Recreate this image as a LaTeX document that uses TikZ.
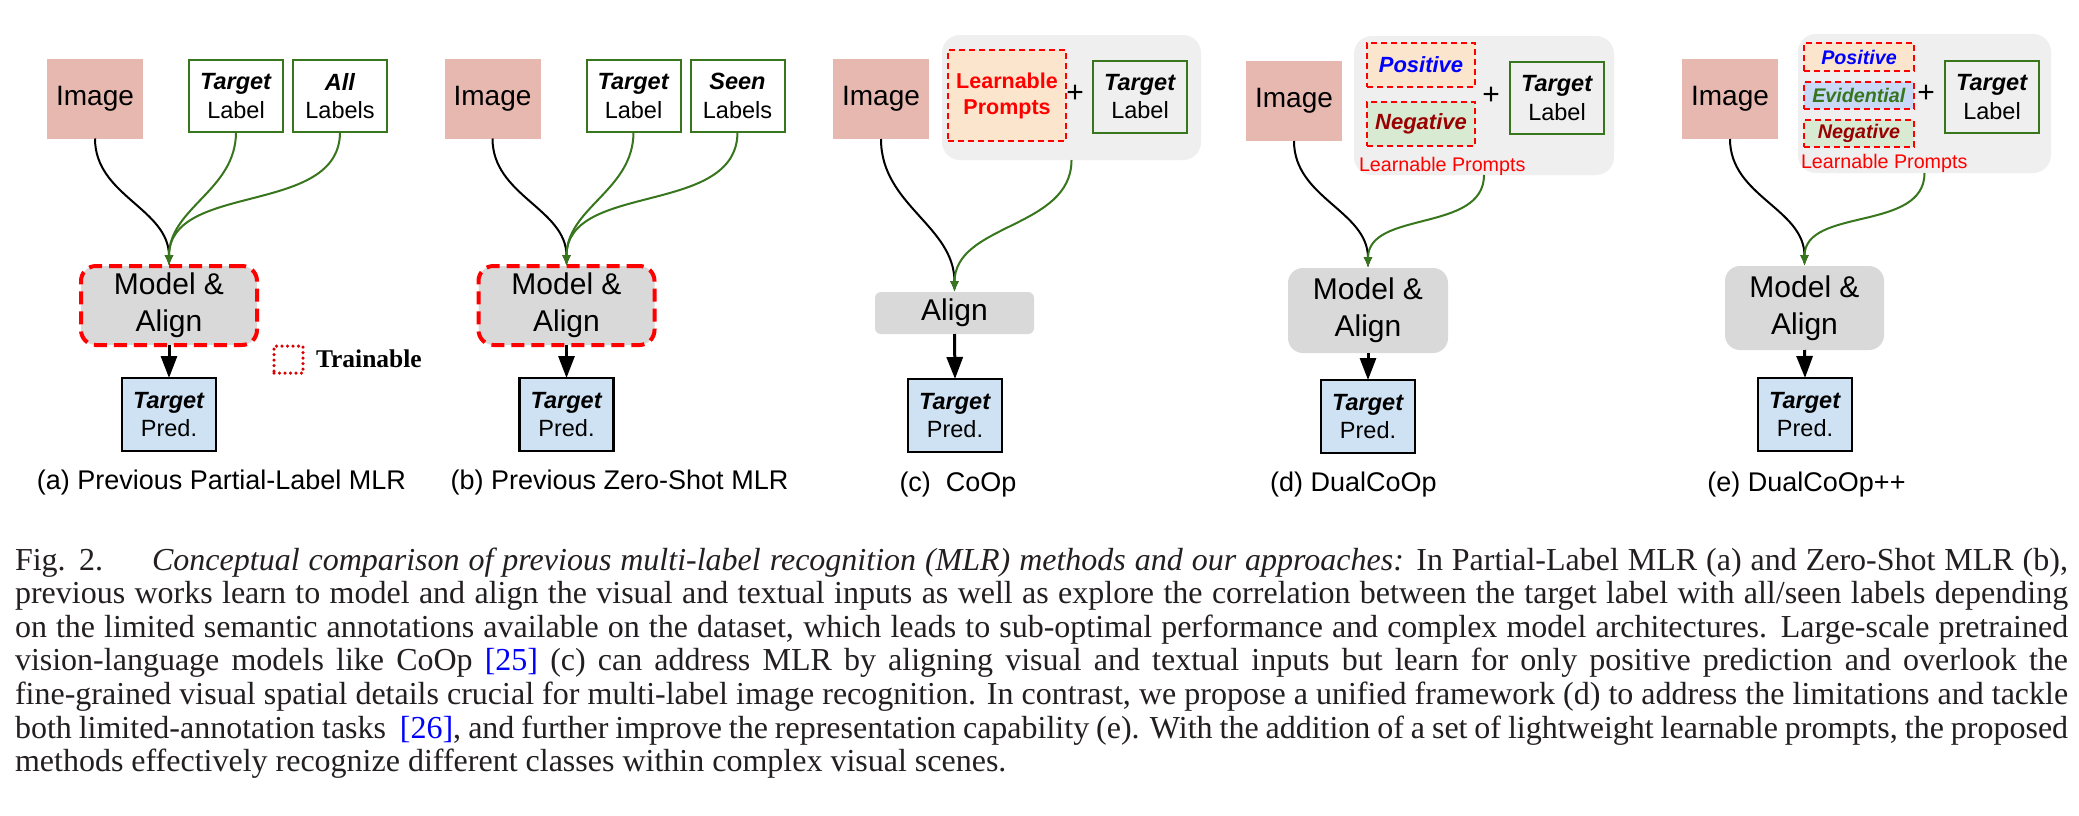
\documentclass[tikz,border=0pt]{standalone}
\usepackage{fontspec}
\setmainfont{Liberation Serif}
\setsansfont{Liberation Sans}
\usetikzlibrary{arrows.meta}
\definecolor{imgpink}{HTML}{E6B8AF}
\definecolor{lgreen}{HTML}{38761D}
\definecolor{mgray}{HTML}{D9D9D9}
\definecolor{predblue}{HTML}{CFE2F3}
\definecolor{bggray}{HTML}{EFEFEF}
\definecolor{peach}{HTML}{FCE5CD}
\definecolor{palegreen}{HTML}{D9EAD3}
\definecolor{paleblue}{HTML}{C9DAF8}
\definecolor{darkred}{HTML}{990000}
\definecolor{captext}{HTML}{231F20}
\definecolor{citeblue}{HTML}{0000FF}
\newcommand\myfs[2]{\fontsize{#1}{#2}\selectfont}
\newcommand\bi[1]{\textbf{\textit{#1}}}
\newcommand\jline[1]{\hbox to 2053pt{\spaceskip=0.25em plus 2em minus 0.12em\relax #1}}
\tikzset{
  every node/.style={inner sep=0pt, outer sep=0pt},
  imgbox/.style={fill=imgpink, minimum width=96pt, minimum height=80pt, font=\sffamily\myfs{28}{34}},
  lblbox/.style={draw=lgreen, line width=2pt, minimum width=94pt, minimum height=72pt, align=center, font=\sffamily\myfs{23.5}{28.5}},
  predbox/.style={draw=black, line width=2.5pt, fill=predblue, minimum width=94pt, minimum height=73pt, align=center, font=\sffamily\myfs{23.5}{28.5}},
  modbox/.style={fill=mgray, rounded corners=15pt, align=center, font=\sffamily\myfs{30}{37}},
  trainbox/.style={modbox, draw=red, line width=4pt, dash pattern=on 13pt off 7pt},
  bgbox/.style={fill=bggray, rounded corners=18pt},
  promptbox/.style={draw=red, line width=2pt, dash pattern=on 6pt off 4pt, align=center},
  dotbox/.style={draw=red!85!black, line width=3.5pt, dash pattern=on 0pt off 5.5pt, line cap=round, minimum width=29pt, minimum height=27pt},
  plus/.style={font=\sffamily\myfs{30}{36}},
  lptext/.style={anchor=west, text=red, font=\sffamily\myfs{19.7}{24}},
  feed/.style={line width=2pt, -{Latex[length=11pt,width=9pt]}},
  gfeed/.style={feed, draw=lgreen},
  outarrow/.style={line width=3pt, -{Triangle[length=22pt,width=16pt]}},
  caplab/.style={font=\sffamily\myfs{27}{32}},
  capline/.style={anchor=base west, text=captext, font=\myfs{32}{33.6}},
}
\begin{document}
\begin{tikzpicture}[x=1pt,y=-1pt]
\fill[white] (0,0) rectangle (2079,815);
\useasboundingbox (0,0) rectangle (2079,815);

% ---------- (a)
\node[imgbox] (imgA) at (95,98.5) {Image};
\node[lblbox] (tlA) at (236,96) {\bi{Target}\\Label};
\node[lblbox] (alA) at (340,96) {\bi{All}\\Labels};
\node[trainbox, minimum width=176pt, minimum height=79pt] (modA) at (169,305.5) {Model \&\\Align};
\node[predbox] (predA) at (169,414.5) {\bi{Target}\\Pred.};
\node[dotbox] (trsq) at (288.5,359.5) {};
\node[anchor=west, font=\myfs{25.5}{30}\bfseries] (trtxt) at (316,359) {Trainable};
\node[caplab] (capA) at (221.5,483) {(a) Previous Partial-Label MLR};
\draw[feed] (imgA.south) to[out=-90,in=90] (modA.north);
\draw[gfeed] (tlA.south) to[out=-90,in=90] (modA.north);
\draw[gfeed] (alA.south) to[out=-90,in=90] (modA.north);
\draw[outarrow] (modA.south) -- (predA.north);

% ---------- (b)
\node[imgbox] (imgB) at (492.5,98.5) {Image};
\node[lblbox] (tlB) at (633.5,96) {\bi{Target}\\Label};
\node[lblbox] (slB) at (737.5,96) {\bi{Seen}\\Labels};
\node[trainbox, minimum width=176pt, minimum height=79pt] (modB) at (566.5,305.5) {Model \&\\Align};
\node[predbox] (predB) at (566.5,414.5) {\bi{Target}\\Pred.};
\node[caplab] (capB) at (619.5,483) {(b) Previous Zero-Shot MLR};
\draw[feed] (imgB.south) to[out=-90,in=90] (modB.north);
\draw[gfeed] (tlB.south) to[out=-90,in=90] (modB.north);
\draw[gfeed] (slB.south) to[out=-90,in=90] (modB.north);
\draw[outarrow] (modB.south) -- (predB.north);

% ---------- (c)
\node[imgbox] (imgC) at (881,99) {Image};
\node[bgbox, minimum width=259pt, minimum height=125pt] (bgC) at (1071.5,97.5) {};
\node[promptbox, fill=peach, minimum width=118pt, minimum height=91pt, text=red, font=\sffamily\bfseries\myfs{21.5}{26}] (lpC) at (1007,95.5) {Learnable\\Prompts};
\node[plus] (plusC) at (1075,94) {+};
\node[lblbox] (tlC) at (1140,96.5) {\bi{Target}\\Label};
\node[modbox, rounded corners=6pt, minimum width=159pt, minimum height=42pt] (alC) at (954.5,313) {Align};
\node[predbox] (predC) at (955,415.5) {\bi{Target}\\Pred.};
\node[caplab] (capC) at (958,485) {(c)\ \ CoOp};
\draw[feed] (imgC.south) to[out=-90,in=90] (alC.north);
\draw[gfeed] (bgC.south) to[out=-90,in=90] (alC.north);
\draw[outarrow] (alC.south) -- (predC.north);

% ---------- (d)
\node[imgbox] (imgD) at (1294,101) {Image};
\node[bgbox, minimum width=260pt, minimum height=139pt] (bgD) at (1484,105.5) {};
\node[promptbox, fill=peach, minimum width=108pt, minimum height=44pt, font=\sffamily\myfs{22}{26}] (posD) at (1421,65) {\textcolor{citeblue}{\bi{Positive}}};
\node[promptbox, fill=palegreen, minimum width=108pt, minimum height=44pt, font=\sffamily\myfs{22}{26}] (negD) at (1421,124) {\textcolor{darkred}{\bi{Negative}}};
\node[plus] (plusD) at (1491,96) {+};
\node[lblbox] (tlD) at (1557,98) {\bi{Target}\\Label};
\node[lptext] (lpD) at (1359,166) {Learnable Prompts};
\node[modbox, minimum width=160pt, minimum height=85pt] (modD) at (1368,310.5) {Model \&\\Align};
\node[predbox] (predD) at (1368,416.5) {\bi{Target}\\Pred.};
\node[caplab] (capD) at (1353.5,485) {(d) DualCoOp};
\draw[feed] (imgD.south) to[out=-90,in=90] (modD.north);
\draw[gfeed] (bgD.south) to[out=-90,in=90] (modD.north);
\draw[outarrow] (modD.south) -- (predD.north);

% ---------- (e)
\node[imgbox] (imgE) at (1730,99) {Image};
\node[bgbox, minimum width=253pt, minimum height=139pt] (bgE) at (1924.5,103.5) {};
\node[promptbox, fill=peach, minimum width=110pt, minimum height=28pt, font=\sffamily\myfs{19.7}{24}] (posE) at (1859,57) {\textcolor{citeblue}{\bi{Positive}}};
\node[promptbox, fill=paleblue, minimum width=110pt, minimum height=27pt, font=\sffamily\myfs{19.7}{24}] (evE) at (1859,95.5) {\textcolor{lgreen}{\bi{Evidential}}};
\node[promptbox, fill=palegreen, minimum width=110pt, minimum height=27pt, font=\sffamily\myfs{19.7}{24}] (negE) at (1859,133.5) {\textcolor{darkred}{\bi{Negative}}};
\node[plus] (plusE) at (1926,94) {+};
\node[lblbox] (tlE) at (1992,97) {\bi{Target}\\Label};
\node[lptext] (lpE) at (1801,163) {Learnable Prompts};
\node[modbox, minimum width=159pt, minimum height=84pt] (modE) at (1804.5,308) {Model \&\\Align};
\node[predbox] (predE) at (1805,414.5) {\bi{Target}\\Pred.};
\node[caplab] (capE) at (1806.5,485) {(e) DualCoOp++};
\draw[feed] (imgE.south) to[out=-90,in=90] (modE.north);
\draw[gfeed] (bgE.south) to[out=-90,in=90] (modE.north);
\draw[outarrow] (modE.south) -- (predE.north);

% ---------- figure caption
\node[capline] (l1) at (15,570) {\jline{Fig. 2.\kern49pt\textit{Conceptual comparison of previous multi-label recognition (MLR) methods and our approaches:} In Partial-Label MLR (a) and Zero-Shot MLR (b),}};
\node[capline] (l2) at (15,603.6) {\jline{previous works learn to model and align the visual and textual inputs as well as explore the correlation between the target label with all/seen labels depending}};
\node[capline] (l3) at (15,637.2) {\jline{on the limited semantic annotations available on the dataset, which leads to sub-optimal performance and complex model architectures. Large-scale pretrained}};
\node[capline] (l4) at (15,670.8) {\jline{vision-language models like CoOp \textcolor{citeblue}{[25]} (c) can address MLR by aligning visual and textual inputs but learn for only positive prediction and overlook the}};
\node[capline] (l5) at (15,704.4) {\jline{fine-grained visual spatial details crucial for multi-label image recognition. In contrast, we propose a unified framework (d) to address the limitations and tackle}};
\node[capline] (l6) at (15,738) {\jline{both limited-annotation tasks\ \ \textcolor{citeblue}{[26]}, and further improve the representation capability (e). With the addition of a set of lightweight learnable prompts, the proposed}};
\node[capline] (l7) at (15,771.6) {methods effectively recognize different classes within complex visual scenes.};
\end{tikzpicture}
\end{document}
